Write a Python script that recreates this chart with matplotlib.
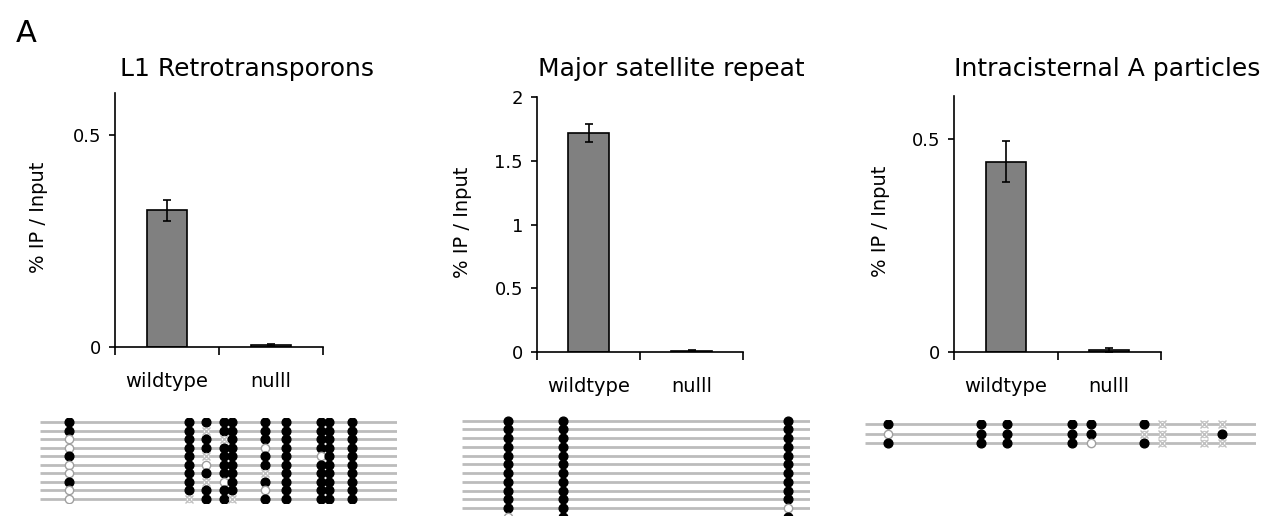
import matplotlib
matplotlib.use("Agg")
import matplotlib.pyplot as plt
import numpy as np

# ChIP data (% IP / Input)
categories = ["wildtype", "nulll"]
titles = ["L1 Retrotransporons", "Major satellite repeat", "Intracisternal A particles"]
l1_vals = [0.323, 0.005]
l1_err = [0.025, 0.003]
major_vals = [1.72, 0.01]
major_err = [0.07, 0.005]
iap_vals = [0.446, 0.005]
iap_err = [0.048, 0.004]
yticks_l1 = [0, 0.5]
yticks_major = [0, 0.5, 1, 1.5, 2]
yticks_iap = [0, 0.5]
ymax = [0.6, 2.0, 0.6]

# bisulfite clones: CpG positions along amplicon, one string per clone
# '1' methylated, '0' unmethylated, '-' not determined
l1_len = 357
l1_sites = [29, 149, 166, 184, 192, 225, 246, 281, 289, 312]
l1_clones = ["1111111111", "11-1111111", "011-111111", "0111101111", "11-1111011",
             "0101111111", "01111-1111", "11-0111111", "0111101111", "0-11-11111"]
major_len = 348
major_sites = [46, 101, 326]
major_clones = ["111"] * 10 + ["110", "011"]
iap_len = 391
iap_sites = [23, 116, 142, 207, 226, 279, 297, 339, 357]
iap_clones = ["111111---", "01111---1", "111101---"]

W, H = 1277, 516
fig = plt.figure(figsize=(W / 100, H / 100), dpi=100)


def px_axes(x0, y0, x1, y1):
    # axes from pixel box (top-left origin)
    return fig.add_axes([x0 / W, 1 - y1 / H, (x1 - x0) / W, (y1 - y0) / H])


def bar_panel(box, vals, errs, yt, top, title, title_x, label_x):
    ax = px_axes(*box)
    x = np.arange(len(categories))
    ax.bar(x, vals, width=0.39, color="#808080", edgecolor="black", linewidth=1.2, zorder=2)
    ax.errorbar(x, vals, yerr=errs, fmt="none", ecolor="black", elinewidth=1.2,
                capsize=3, capthick=1.2, zorder=3)
    ax.set_xlim(-0.5, 1.5)
    ax.set_ylim(0, top)
    for s in ["top", "right"]:
        ax.spines[s].set_visible(False)
    for s in ["left", "bottom"]:
        ax.spines[s].set_linewidth(1.2)
    ax.set_xticks([-0.5, 0.5, 1.5])
    ax.set_xticklabels([])
    ax.tick_params(axis="x", which="major", direction="out", length=6, width=1.2)
    ax.set_xticks(x, minor=True)
    ax.set_xticklabels(categories, minor=True, fontsize=14)
    ax.tick_params(axis="x", which="minor", length=0, pad=18)
    ax.set_yticks(yt)
    ax.set_yticklabels(["{:g}".format(v) for v in yt], fontsize=13)
    ax.tick_params(axis="y", direction="out", length=4, width=1.2, pad=6)
    ax.set_ylabel("% IP / Input", fontsize=14)
    ax.yaxis.set_label_coords(label_x, 0.51)
    fig.text(title_x / W, 1 - 69 / H, title, fontsize=18, ha="center", va="center")
    return ax


def meth_panel(box, length, sites, clones):
    ax = px_axes(*box)
    n = len(clones)
    for i, clone in enumerate(clones):
        ax.plot([0, length], [i, i], color="#bcbcbc", lw=2, zorder=1, solid_capstyle="butt")
        for pos, st in zip(sites, clone):
            if st == "1":
                ax.plot(pos, i, "o", ms=6.3, mfc="black", mec="black", zorder=3)
            elif st == "0":
                ax.plot(pos, i, "o", ms=6, mfc="white", mec="#a0a0a0", mew=1, zorder=3)
            else:
                ax.plot(pos, i, "o", ms=4.5, mfc="white", mec="#c8c8c8", mew=0.8, zorder=3)
                ax.plot(pos, i, "x", ms=6, mec="#c0c0c0", mew=1, zorder=4)
    ax.set_xlim(0, length)
    ax.set_ylim(n - 0.5, -0.5)
    ax.axis("off")
    return ax


bar_panel((115, 93, 323, 347), l1_vals, l1_err, yticks_l1, ymax[0], titles[0], 247, -0.322)
bar_panel((537, 97, 743, 352), major_vals, major_err, yticks_major, ymax[1], titles[1], 671, -0.316)
bar_panel((954, 96, 1161, 352), iap_vals, iap_err, yticks_iap, ymax[2], titles[2], 1107, -0.309)

meth_panel((40, 417.7, 397, 503.3), l1_len, l1_sites, l1_clones)
meth_panel((462, 416.3, 810, 521.1), major_len, major_sites, major_clones)
meth_panel((865, 419.5, 1256, 448.0), iap_len, iap_sites, iap_clones)

fig.text(26 / W, 1 - 34 / H, "A", fontsize=22, ha="center", va="center")

fig.savefig("out.png", dpi=100)
